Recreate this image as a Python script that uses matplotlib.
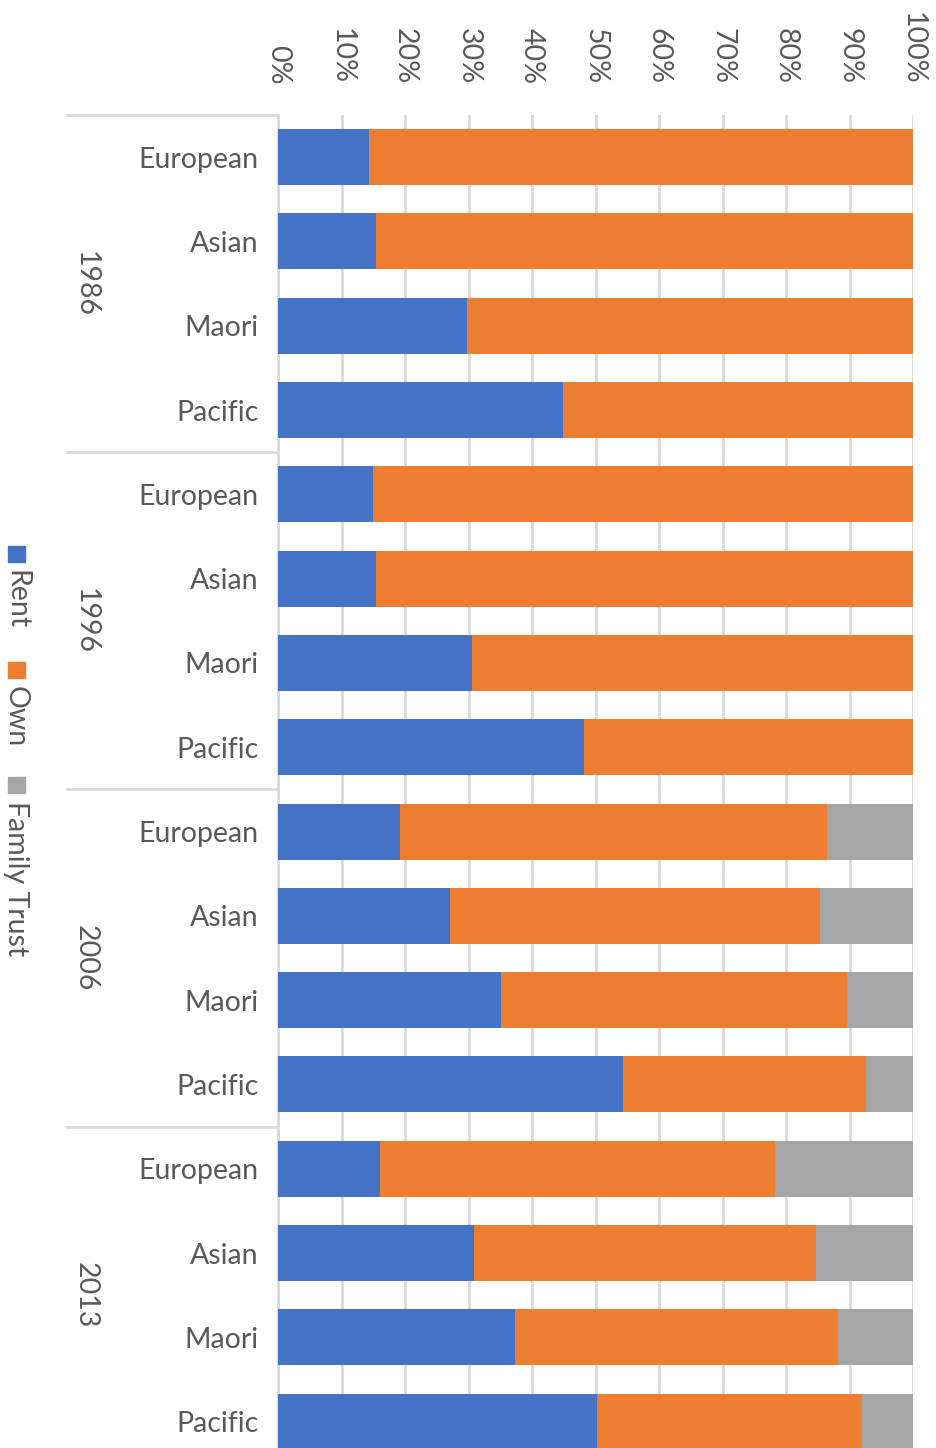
import matplotlib.pyplot as plt
import matplotlib.transforms as mtransforms
from matplotlib.patches import Rectangle
import numpy as np

years = ['1986', '1996', '2006', '2013']
groups = ['European', 'Asian', 'Maori', 'Pacific']

# percentages per row, rows ordered year by year, group by group
rent = [14.3, 15.4, 29.8, 44.9,
        15.0, 15.4, 30.6, 48.2,
        19.2, 27.1, 35.1, 54.3,
        16.1, 30.9, 37.3, 50.2]
own = [85.7, 84.6, 70.2, 55.1,
       85.0, 84.6, 69.4, 51.8,
       67.3, 58.3, 54.5, 38.3,
       62.2, 53.8, 50.9, 41.8]
trust = [0, 0, 0, 0,
         0, 0, 0, 0,
         13.5, 14.6, 10.4, 7.4,
         21.7, 15.3, 11.8, 8.0]

series = ['Rent', 'Own', 'Family Trust']
colors = ['#4472C4', '#ED7D31', '#A5A5A5']
txt = '#595959'
gridc = '#D9D9D9'
fs = 20.5

plt.rcParams['font.family'] = ['Lato', 'DejaVu Sans']

W, H = 937, 1448
fig = plt.figure(figsize=(W / 100, H / 100), dpi=100)

# plot area in pixels: x 278..913, rows start at y=115 with 84.3 px per row
x0, x1, ytop, row = 278, 913, 115, 84.3
nrows = len(rent)
ybot = ytop + nrows * row
ax = fig.add_axes([x0 / W, 1 - ybot / H, (x1 - x0) / W, (ybot - ytop) / H])

ypos = np.arange(nrows)
left = np.zeros(nrows)
for vals, c in zip([rent, own, trust], colors):
    vals = np.array(vals)
    ax.barh(ypos, vals, left=left, height=0.665, color=c, zorder=3)
    left += vals

ax.set_xlim(0, 100)
ax.set_ylim(nrows - 0.5, -0.5)
ax.set_xticks(np.arange(0, 101, 10))
ax.set_xticklabels([f'{v}%' for v in range(0, 101, 10)], rotation=-90)
ax.xaxis.tick_top()
ax.tick_params(axis='x', length=0, pad=22, labelsize=fs, labelcolor=txt)
ax.set_yticks(ypos)
ax.set_yticklabels(groups * len(years))
ax.tick_params(axis='y', length=0, pad=14, labelsize=fs, labelcolor=txt)
ax.grid(axis='x', color=gridc, linewidth=2, zorder=0)
for s in ['top', 'right', 'bottom']:
    ax.spines[s].set_visible(False)
ax.spines['left'].set_color(gridc)
ax.spines['left'].set_linewidth(2)

# year labels and group separators on the category axis
trans = mtransforms.blended_transform_factory(ax.transAxes, ax.transData)
sep_x = (67 - x0) / (x1 - x0)
for i, yr in enumerate(years):
    top = i * len(groups) - 0.5
    ax.plot([sep_x, 0], [top, top], color=gridc, linewidth=2,
            transform=trans, clip_on=False)
    ax.text((86 - x0) / (x1 - x0), top + len(groups) / 2, yr,
            transform=trans, rotation=-90, ha='center', va='center',
            fontsize=fs, color=txt)

# legend along the left edge, reading top to bottom
leg = [(546, 570), (662, 686), (777, 801)]
for (sq, ty), name, c in zip(leg, series, colors):
    fig.add_artist(Rectangle((8 / W, 1 - (sq + 16) / H), 17 / W, 16 / H,
                             transform=fig.transFigure, color=c))
    fig.text(16 / W, 1 - ty / H, name, rotation=-90, ha='center', va='top',
             fontsize=fs, color=txt)

fig.savefig('out.png', dpi=100)
